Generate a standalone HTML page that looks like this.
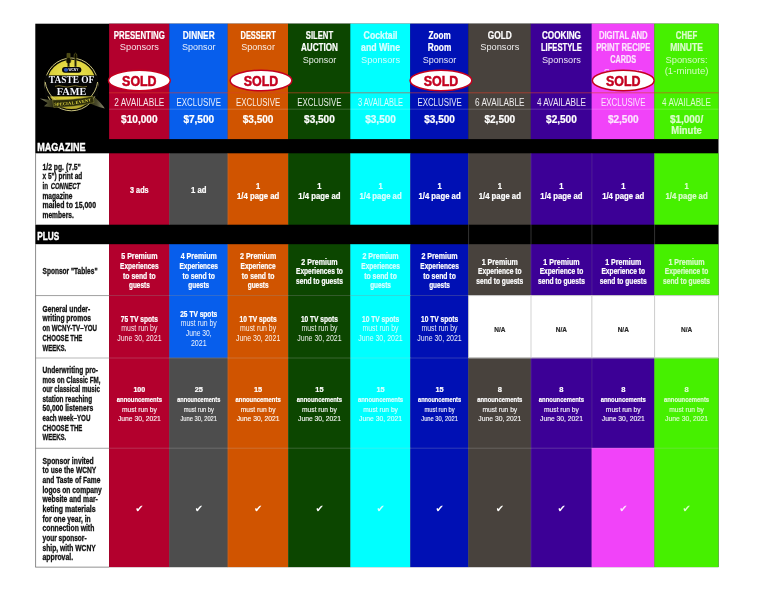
<!DOCTYPE html>
<html lang="en"><head><meta charset="utf-8"><title>Taste of Fame Sponsorship Levels</title>
<style>
html,body{margin:0;padding:0;background:#fff;}
body{width:768px;height:593px;overflow:hidden;}
svg{display:block;font-family:"Liberation Sans","DejaVu Sans",sans-serif;}
</style></head><body>
<svg width="768" height="593" viewBox="0 0 768 593">
<rect x="35.30" y="23.70" width="683.20" height="543.40" fill="#000"/>
<rect x="35.30" y="153.30" width="73.80" height="71.40" fill="#fff"/>
<rect x="35.30" y="244.20" width="73.80" height="51.40" fill="#fff"/>
<rect x="35.30" y="295.60" width="73.80" height="62.40" fill="#fff"/>
<rect x="35.30" y="358.00" width="73.80" height="90.20" fill="#fff"/>
<rect x="35.30" y="448.20" width="73.80" height="118.90" fill="#fff"/>
<rect x="109.10" y="23.70" width="60.50" height="115.40" fill="#b3002d"/>
<rect x="169.30" y="23.70" width="58.60" height="115.40" fill="#075eec"/>
<rect x="227.60" y="23.70" width="60.70" height="115.40" fill="#d05400"/>
<rect x="288.00" y="23.70" width="62.60" height="115.40" fill="#0c4600"/>
<rect x="350.30" y="23.70" width="60.20" height="115.40" fill="#00ffff"/>
<rect x="410.20" y="23.70" width="58.40" height="115.40" fill="#0010b4"/>
<rect x="468.30" y="23.70" width="62.70" height="115.40" fill="#48423d"/>
<rect x="530.70" y="23.70" width="61.20" height="115.40" fill="#3c0096"/>
<rect x="591.60" y="23.70" width="63.00" height="115.40" fill="#f143f9"/>
<rect x="654.30" y="23.70" width="64.20" height="115.40" fill="#46f000"/>
<rect x="109.10" y="153.30" width="60.50" height="71.40" fill="#b3002d"/>
<rect x="169.30" y="153.30" width="58.60" height="71.40" fill="#4d4d4d"/>
<rect x="227.60" y="153.30" width="60.70" height="71.40" fill="#d05400"/>
<rect x="288.00" y="153.30" width="62.60" height="71.40" fill="#0c4600"/>
<rect x="350.30" y="153.30" width="60.20" height="71.40" fill="#00ffff"/>
<rect x="410.20" y="153.30" width="58.40" height="71.40" fill="#0010b4"/>
<rect x="468.30" y="153.30" width="62.70" height="71.40" fill="#48423d"/>
<rect x="530.70" y="153.30" width="61.20" height="71.40" fill="#3c0096"/>
<rect x="591.60" y="153.30" width="63.00" height="71.40" fill="#3c0096"/>
<rect x="654.30" y="153.30" width="64.20" height="71.40" fill="#46f000"/>
<rect x="109.10" y="244.20" width="60.50" height="51.40" fill="#b3002d"/>
<rect x="169.30" y="244.20" width="58.60" height="51.40" fill="#075eec"/>
<rect x="227.60" y="244.20" width="60.70" height="51.40" fill="#d05400"/>
<rect x="288.00" y="244.20" width="62.60" height="51.40" fill="#0c4600"/>
<rect x="350.30" y="244.20" width="60.20" height="51.40" fill="#00ffff"/>
<rect x="410.20" y="244.20" width="58.40" height="51.40" fill="#0010b4"/>
<rect x="468.30" y="244.20" width="62.70" height="51.40" fill="#48423d"/>
<rect x="530.70" y="244.20" width="61.20" height="51.40" fill="#3c0096"/>
<rect x="591.60" y="244.20" width="63.00" height="51.40" fill="#3c0096"/>
<rect x="654.30" y="244.20" width="64.20" height="51.40" fill="#46f000"/>
<rect x="109.10" y="295.30" width="60.50" height="62.70" fill="#b3002d"/>
<rect x="169.30" y="295.30" width="58.60" height="62.70" fill="#075eec"/>
<rect x="227.60" y="295.30" width="60.70" height="62.70" fill="#d05400"/>
<rect x="288.00" y="295.30" width="62.60" height="62.70" fill="#0c4600"/>
<rect x="350.30" y="295.30" width="60.20" height="62.70" fill="#00ffff"/>
<rect x="410.20" y="295.30" width="58.40" height="62.70" fill="#0010b4"/>
<rect x="468.30" y="295.30" width="62.70" height="62.70" fill="#ffffff"/>
<rect x="530.70" y="295.30" width="61.20" height="62.70" fill="#ffffff"/>
<rect x="591.60" y="295.30" width="63.00" height="62.70" fill="#ffffff"/>
<rect x="654.30" y="295.30" width="64.20" height="62.70" fill="#ffffff"/>
<rect x="109.10" y="357.70" width="60.50" height="90.50" fill="#b3002d"/>
<rect x="169.30" y="357.70" width="58.60" height="90.50" fill="#4d4d4d"/>
<rect x="227.60" y="357.70" width="60.70" height="90.50" fill="#d05400"/>
<rect x="288.00" y="357.70" width="62.60" height="90.50" fill="#0c4600"/>
<rect x="350.30" y="357.70" width="60.20" height="90.50" fill="#00ffff"/>
<rect x="410.20" y="357.70" width="58.40" height="90.50" fill="#0010b4"/>
<rect x="468.30" y="357.70" width="62.70" height="90.50" fill="#48423d"/>
<rect x="530.70" y="357.70" width="61.20" height="90.50" fill="#3c0096"/>
<rect x="591.60" y="357.70" width="63.00" height="90.50" fill="#3c0096"/>
<rect x="654.30" y="357.70" width="64.20" height="90.50" fill="#46f000"/>
<rect x="109.10" y="447.90" width="60.50" height="119.20" fill="#b3002d"/>
<rect x="169.30" y="447.90" width="58.60" height="119.20" fill="#4d4d4d"/>
<rect x="227.60" y="447.90" width="60.70" height="119.20" fill="#d05400"/>
<rect x="288.00" y="447.90" width="62.60" height="119.20" fill="#0c4600"/>
<rect x="350.30" y="447.90" width="60.20" height="119.20" fill="#00ffff"/>
<rect x="410.20" y="447.90" width="58.40" height="119.20" fill="#0010b4"/>
<rect x="468.30" y="447.90" width="62.70" height="119.20" fill="#48423d"/>
<rect x="530.70" y="447.90" width="61.20" height="119.20" fill="#3c0096"/>
<rect x="591.60" y="447.90" width="63.00" height="119.20" fill="#f143f9"/>
<rect x="654.30" y="447.90" width="64.20" height="119.20" fill="#46f000"/>
<line x1="35.30" y1="295.60" x2="109.10" y2="295.60" stroke="#9a9a9a" stroke-width="0.7"/>
<line x1="35.30" y1="358.00" x2="109.10" y2="358.00" stroke="#9a9a9a" stroke-width="0.7"/>
<line x1="35.30" y1="448.20" x2="109.10" y2="448.20" stroke="#9a9a9a" stroke-width="0.7"/>
<line x1="35.60" y1="153.30" x2="35.60" y2="224.70" stroke="#777" stroke-width="0.7"/>
<line x1="35.60" y1="244.20" x2="35.60" y2="567.10" stroke="#777" stroke-width="0.7"/>
<line x1="35.30" y1="567.10" x2="109.10" y2="567.10" stroke="#777" stroke-width="0.7"/>
<line x1="468.60" y1="295.60" x2="468.60" y2="358.00" stroke="#c8c8c8" stroke-width="0.7"/>
<line x1="531.00" y1="295.60" x2="531.00" y2="358.00" stroke="#c8c8c8" stroke-width="0.7"/>
<line x1="591.90" y1="295.60" x2="591.90" y2="358.00" stroke="#c8c8c8" stroke-width="0.7"/>
<line x1="654.60" y1="295.60" x2="654.60" y2="358.00" stroke="#c8c8c8" stroke-width="0.7"/>
<line x1="718.50" y1="295.60" x2="718.50" y2="358.00" stroke="#c8c8c8" stroke-width="0.7"/>
<line x1="468.60" y1="295.60" x2="718.50" y2="295.60" stroke="#c8c8c8" stroke-width="0.7"/>
<line x1="468.60" y1="358.00" x2="718.50" y2="358.00" stroke="#c8c8c8" stroke-width="0.7"/>
<line x1="468.60" y1="224.70" x2="468.60" y2="244.20" stroke="#555" stroke-width="0.6"/>
<line x1="531.00" y1="224.70" x2="531.00" y2="244.20" stroke="#555" stroke-width="0.6"/>
<line x1="591.90" y1="224.70" x2="591.90" y2="244.20" stroke="#555" stroke-width="0.6"/>
<line x1="654.60" y1="224.70" x2="654.60" y2="244.20" stroke="#555" stroke-width="0.6"/>
<line x1="718.50" y1="224.70" x2="718.50" y2="244.20" stroke="#555" stroke-width="0.6"/>
<line x1="109.10" y1="295.60" x2="468.60" y2="295.60" stroke="#c8c8c8" stroke-width="0.7" opacity="0.35"/>
<line x1="109.10" y1="358.00" x2="718.50" y2="358.00" stroke="#c8c8c8" stroke-width="0.7" opacity="0.35"/>
<line x1="109.10" y1="448.20" x2="718.50" y2="448.20" stroke="#c8c8c8" stroke-width="0.7" opacity="0.35"/>
<line x1="169.60" y1="153.30" x2="169.60" y2="224.70" stroke="#c8c8c8" stroke-width="0.6" opacity="0.25"/>
<line x1="169.60" y1="244.20" x2="169.60" y2="567.10" stroke="#c8c8c8" stroke-width="0.6" opacity="0.25"/>
<line x1="227.90" y1="153.30" x2="227.90" y2="224.70" stroke="#c8c8c8" stroke-width="0.6" opacity="0.25"/>
<line x1="227.90" y1="244.20" x2="227.90" y2="567.10" stroke="#c8c8c8" stroke-width="0.6" opacity="0.25"/>
<line x1="288.30" y1="153.30" x2="288.30" y2="224.70" stroke="#c8c8c8" stroke-width="0.6" opacity="0.25"/>
<line x1="288.30" y1="244.20" x2="288.30" y2="567.10" stroke="#c8c8c8" stroke-width="0.6" opacity="0.25"/>
<line x1="350.60" y1="153.30" x2="350.60" y2="224.70" stroke="#c8c8c8" stroke-width="0.6" opacity="0.25"/>
<line x1="350.60" y1="244.20" x2="350.60" y2="567.10" stroke="#c8c8c8" stroke-width="0.6" opacity="0.25"/>
<line x1="410.50" y1="153.30" x2="410.50" y2="224.70" stroke="#c8c8c8" stroke-width="0.6" opacity="0.25"/>
<line x1="410.50" y1="244.20" x2="410.50" y2="567.10" stroke="#c8c8c8" stroke-width="0.6" opacity="0.25"/>
<line x1="468.60" y1="153.30" x2="468.60" y2="224.70" stroke="#c8c8c8" stroke-width="0.6" opacity="0.25"/>
<line x1="468.60" y1="244.20" x2="468.60" y2="567.10" stroke="#c8c8c8" stroke-width="0.6" opacity="0.25"/>
<line x1="531.00" y1="153.30" x2="531.00" y2="224.70" stroke="#c8c8c8" stroke-width="0.6" opacity="0.25"/>
<line x1="531.00" y1="244.20" x2="531.00" y2="567.10" stroke="#c8c8c8" stroke-width="0.6" opacity="0.25"/>
<line x1="591.90" y1="153.30" x2="591.90" y2="224.70" stroke="#c8c8c8" stroke-width="0.6" opacity="0.25"/>
<line x1="591.90" y1="244.20" x2="591.90" y2="567.10" stroke="#c8c8c8" stroke-width="0.6" opacity="0.25"/>
<line x1="654.60" y1="153.30" x2="654.60" y2="224.70" stroke="#c8c8c8" stroke-width="0.6" opacity="0.25"/>
<line x1="654.60" y1="244.20" x2="654.60" y2="567.10" stroke="#c8c8c8" stroke-width="0.6" opacity="0.25"/>
<line x1="109.10" y1="92.80" x2="718.50" y2="92.80" stroke="#d8402a" stroke-width="0.8" opacity="0.75"/>
<line x1="109.10" y1="109.20" x2="718.50" y2="109.20" stroke="#ffffff" stroke-width="0.6" opacity="0.3"/>
<defs>
<radialGradient id="lg" cx="0.5" cy="0.35" r="0.75"><stop offset="0" stop-color="#f2ea55"/><stop offset="0.65" stop-color="#d8cc38"/><stop offset="1" stop-color="#9a8d20"/></radialGradient>
<linearGradient id="tl" x1="0" y1="0" x2="1" y2="0"><stop offset="0" stop-color="#8a8a70"/><stop offset="0.5" stop-color="#4a4a2c"/><stop offset="1" stop-color="#2a2a10"/></linearGradient>
<linearGradient id="tr" x1="1" y1="0" x2="0" y2="0"><stop offset="0" stop-color="#8a8a70"/><stop offset="0.5" stop-color="#4a4a2c"/><stop offset="1" stop-color="#2a2a10"/></linearGradient>
<path id="arc" d="M50,105.9 Q73,105.6 96,100.2"/>
</defs>
<g>
<circle cx="71.4" cy="84.4" r="26.4" fill="#0a0a00" stroke="#dcd58a" stroke-width="0.9"/>
<circle cx="71.4" cy="84.4" r="24.6" fill="url(#lg)"/>
<rect x="45" y="75.4" width="53" height="21" fill="#050505"/>
<path d="M45.2,82 A26.4,26.4 0 0 0 97.6,82" fill="none" stroke="#dcd58a" stroke-width="0.9"/>
<g stroke="#6f6c22" stroke-width="0.6" fill="#0d0c00">
<path d="M67,53.4 v4.6 q-0.9,1.2 -0.9,2.8 q0,2 1.6,2.6 v3.4 h1.7 v-3.4 q1.6,-0.6 1.6,-2.6 q0,-1.6 -0.9,-2.8 v-4.6 h-0.7 v4.2 h-0.5 v-4.2 h-0.7 v4.2 h-0.5 v-4.2 z"/>
<path d="M75.4,53.2 q-1.3,0 -1.3,3 q0,1.6 0.6,2.4 v8.2 h1.6 v-8.2 q0.6,-0.8 0.6,-2.4 q0,-3 -1.5,-3 z"/>
</g>
<rect x="62" y="66.9" width="19.4" height="5.8" rx="2.9" fill="#060606"/>
<ellipse cx="66" cy="69.8" rx="2.2" ry="1.9" fill="#2d55b8"/>
<text x="73.4" y="71.3" font-size="4.2" font-weight="bold" fill="#e8ecff" text-anchor="middle" textLength="10" lengthAdjust="spacingAndGlyphs">WCNY</text>
<text x="71.6" y="83" font-size="9.4" font-weight="bold" fill="#f4f6ff" text-anchor="middle" textLength="45.5" lengthAdjust="spacingAndGlyphs" style="font-family:'Liberation Serif','DejaVu Serif',serif">TASTE OF</text>
<path d="M55,86.4 q4,-1.4 8,0 q4,1.4 8,0 q4,-1.4 8,0 q4,1.4 8,0" fill="none" stroke="#7d712a" stroke-width="0.9"/>
<text x="71.6" y="94.7" font-size="9.4" font-weight="bold" fill="#f4f6ff" text-anchor="middle" textLength="29.5" lengthAdjust="spacingAndGlyphs" style="font-family:'Liberation Serif','DejaVu Serif',serif">FAME</text>
<path d="M40,98.6 q7,1.4 13.6,1.6 l0.8,7.2 q-5,-0.2 -10.4,-1.2 l3.6,-3.2 z" fill="url(#tl)"/>
<path d="M104.8,108.6 q-3,-5 -9.8,-11 l-6.4,5.2 q6,3.2 16.2,5.8 z" fill="url(#tr)"/>
<path d="M52.6,100 Q73,100.4 93,96.2 L94,102.6 Q74,107.6 53.8,107.4 z" fill="#2c2c0a" stroke="#8f8a3a" stroke-width="0.5"/>
<text font-size="4.3" font-weight="bold" fill="#e6dc44" style="font-family:'Liberation Serif','DejaVu Serif',serif" letter-spacing="0.25"><textPath href="#arc" startOffset="50%" text-anchor="middle">SPECIAL EVENT</textPath></text>
</g>
<text x="139.35" y="38.80" textLength="51.0" lengthAdjust="spacingAndGlyphs" font-size="10" font-weight="bold" fill="#fff" text-anchor="middle" stroke="#fff" stroke-width="0.22">PRESENTING</text>
<text x="139.35" y="50.30" textLength="39.0" lengthAdjust="spacingAndGlyphs" font-size="9.3" font-weight="normal" fill="#fff" text-anchor="middle" opacity="0.9">Sponsors</text>
<ellipse cx="139.35" cy="80.5" rx="30.9" ry="10.3" fill="#fff" stroke="#c4001f" stroke-width="1.5"/>
<text x="139.35" y="85.70" textLength="34.5" lengthAdjust="spacingAndGlyphs" font-size="14.5" font-weight="bold" fill="#c4001f" text-anchor="middle" stroke="#c4001f" stroke-width="0.5">SOLD</text>
<text x="139.35" y="106.00" textLength="50.0" lengthAdjust="spacingAndGlyphs" font-size="10" font-weight="normal" fill="#fff" text-anchor="middle" opacity="0.9">2 AVAILABLE</text>
<text x="139.35" y="122.90" textLength="36.5" lengthAdjust="spacingAndGlyphs" font-size="10" font-weight="bold" fill="#fff" text-anchor="middle" stroke="#fff" stroke-width="0.22">$10,000</text>
<text x="198.75" y="38.80" textLength="31.8" lengthAdjust="spacingAndGlyphs" font-size="10" font-weight="bold" fill="#fff" text-anchor="middle" stroke="#fff" stroke-width="0.22">DINNER</text>
<text x="198.75" y="50.30" textLength="33.6" lengthAdjust="spacingAndGlyphs" font-size="9.3" font-weight="normal" fill="#fff" text-anchor="middle" opacity="0.9">Sponsor</text>
<text x="198.75" y="106.00" textLength="44.3" lengthAdjust="spacingAndGlyphs" font-size="10" font-weight="normal" fill="#fff" text-anchor="middle" opacity="0.9">EXCLUSIVE</text>
<text x="198.75" y="122.90" textLength="30.7" lengthAdjust="spacingAndGlyphs" font-size="10" font-weight="bold" fill="#fff" text-anchor="middle" stroke="#fff" stroke-width="0.22">$7,500</text>
<text x="258.10" y="38.80" textLength="35.2" lengthAdjust="spacingAndGlyphs" font-size="10" font-weight="bold" fill="#fff" text-anchor="middle" stroke="#fff" stroke-width="0.22">DESSERT</text>
<text x="258.10" y="50.30" textLength="33.6" lengthAdjust="spacingAndGlyphs" font-size="9.3" font-weight="normal" fill="#fff" text-anchor="middle" opacity="0.9">Sponsor</text>
<ellipse cx="261.00" cy="80.5" rx="30.9" ry="10.3" fill="#fff" stroke="#c4001f" stroke-width="1.5"/>
<text x="261.00" y="85.70" textLength="34.5" lengthAdjust="spacingAndGlyphs" font-size="14.5" font-weight="bold" fill="#c4001f" text-anchor="middle" stroke="#c4001f" stroke-width="0.5">SOLD</text>
<text x="258.10" y="106.00" textLength="44.3" lengthAdjust="spacingAndGlyphs" font-size="10" font-weight="normal" fill="#fff" text-anchor="middle" opacity="0.9">EXCLUSIVE</text>
<text x="258.10" y="122.90" textLength="30.7" lengthAdjust="spacingAndGlyphs" font-size="10" font-weight="bold" fill="#fff" text-anchor="middle" stroke="#fff" stroke-width="0.22">$3,500</text>
<text x="319.45" y="38.80" textLength="27.3" lengthAdjust="spacingAndGlyphs" font-size="10" font-weight="bold" fill="#fff" text-anchor="middle" stroke="#fff" stroke-width="0.22">SILENT</text>
<text x="319.45" y="51.10" textLength="37.0" lengthAdjust="spacingAndGlyphs" font-size="10" font-weight="bold" fill="#fff" text-anchor="middle" stroke="#fff" stroke-width="0.22">AUCTION</text>
<text x="319.45" y="62.60" textLength="33.6" lengthAdjust="spacingAndGlyphs" font-size="9.3" font-weight="normal" fill="#fff" text-anchor="middle" opacity="0.9">Sponsor</text>
<text x="319.45" y="106.00" textLength="44.3" lengthAdjust="spacingAndGlyphs" font-size="10" font-weight="normal" fill="#fff" text-anchor="middle" opacity="0.9">EXCLUSIVE</text>
<text x="319.45" y="122.90" textLength="30.7" lengthAdjust="spacingAndGlyphs" font-size="10" font-weight="bold" fill="#fff" text-anchor="middle" stroke="#fff" stroke-width="0.22">$3,500</text>
<text x="380.55" y="38.80" textLength="33.9" lengthAdjust="spacingAndGlyphs" font-size="10" font-weight="bold" fill="#fff" text-anchor="middle" opacity="0.85" stroke="#fff" stroke-width="0.22">Cocktail</text>
<text x="380.55" y="51.10" textLength="39.0" lengthAdjust="spacingAndGlyphs" font-size="10" font-weight="bold" fill="#fff" text-anchor="middle" opacity="0.85" stroke="#fff" stroke-width="0.22">and Wine</text>
<text x="380.55" y="62.60" textLength="39.0" lengthAdjust="spacingAndGlyphs" font-size="9.3" font-weight="normal" fill="#fff" text-anchor="middle" opacity="0.8075">Sponsors</text>
<text x="380.55" y="106.00" textLength="45.0" lengthAdjust="spacingAndGlyphs" font-size="10" font-weight="normal" fill="#fff" text-anchor="middle" opacity="0.85">3 AVAILABLE</text>
<text x="380.55" y="122.90" textLength="30.7" lengthAdjust="spacingAndGlyphs" font-size="10" font-weight="bold" fill="#fff" text-anchor="middle" opacity="0.85" stroke="#fff" stroke-width="0.22">$3,500</text>
<text x="439.55" y="38.80" textLength="22.1" lengthAdjust="spacingAndGlyphs" font-size="10" font-weight="bold" fill="#fff" text-anchor="middle" stroke="#fff" stroke-width="0.22">Zoom</text>
<text x="439.55" y="51.10" textLength="23.4" lengthAdjust="spacingAndGlyphs" font-size="10" font-weight="bold" fill="#fff" text-anchor="middle" stroke="#fff" stroke-width="0.22">Room</text>
<text x="439.55" y="62.60" textLength="33.6" lengthAdjust="spacingAndGlyphs" font-size="9.3" font-weight="normal" fill="#fff" text-anchor="middle" opacity="0.9">Sponsor</text>
<ellipse cx="440.95" cy="80.5" rx="30.9" ry="10.3" fill="#fff" stroke="#c4001f" stroke-width="1.5"/>
<text x="440.95" y="85.70" textLength="34.5" lengthAdjust="spacingAndGlyphs" font-size="14.5" font-weight="bold" fill="#c4001f" text-anchor="middle" stroke="#c4001f" stroke-width="0.5">SOLD</text>
<text x="439.55" y="106.00" textLength="44.3" lengthAdjust="spacingAndGlyphs" font-size="10" font-weight="normal" fill="#fff" text-anchor="middle" opacity="0.9">EXCLUSIVE</text>
<text x="439.55" y="122.90" textLength="30.7" lengthAdjust="spacingAndGlyphs" font-size="10" font-weight="bold" fill="#fff" text-anchor="middle" stroke="#fff" stroke-width="0.22">$3,500</text>
<text x="499.80" y="38.80" textLength="24.0" lengthAdjust="spacingAndGlyphs" font-size="10" font-weight="bold" fill="#fff" text-anchor="middle" stroke="#fff" stroke-width="0.22">GOLD</text>
<text x="499.80" y="50.30" textLength="39.0" lengthAdjust="spacingAndGlyphs" font-size="9.3" font-weight="normal" fill="#fff" text-anchor="middle" opacity="0.9">Sponsors</text>
<text x="499.80" y="106.00" textLength="49.5" lengthAdjust="spacingAndGlyphs" font-size="10" font-weight="normal" fill="#fff" text-anchor="middle" opacity="0.9">6 AVAILABLE</text>
<text x="499.80" y="122.90" textLength="30.7" lengthAdjust="spacingAndGlyphs" font-size="10" font-weight="bold" fill="#fff" text-anchor="middle" stroke="#fff" stroke-width="0.22">$2,500</text>
<text x="561.45" y="38.80" textLength="39.0" lengthAdjust="spacingAndGlyphs" font-size="10" font-weight="bold" fill="#fff" text-anchor="middle" stroke="#fff" stroke-width="0.22">COOKING</text>
<text x="561.45" y="51.10" textLength="41.0" lengthAdjust="spacingAndGlyphs" font-size="10" font-weight="bold" fill="#fff" text-anchor="middle" stroke="#fff" stroke-width="0.22">LIFESTYLE</text>
<text x="561.45" y="62.60" textLength="39.0" lengthAdjust="spacingAndGlyphs" font-size="9.3" font-weight="normal" fill="#fff" text-anchor="middle" opacity="0.9">Sponsors</text>
<text x="561.45" y="106.00" textLength="49.0" lengthAdjust="spacingAndGlyphs" font-size="10" font-weight="normal" fill="#fff" text-anchor="middle" opacity="0.9">4 AVAILABLE</text>
<text x="561.45" y="122.90" textLength="30.7" lengthAdjust="spacingAndGlyphs" font-size="10" font-weight="bold" fill="#fff" text-anchor="middle" stroke="#fff" stroke-width="0.22">$2,500</text>
<text x="623.25" y="38.80" textLength="48.7" lengthAdjust="spacingAndGlyphs" font-size="10" font-weight="bold" fill="#fff" text-anchor="middle" opacity="0.85" stroke="#fff" stroke-width="0.22">DIGITAL AND</text>
<text x="623.25" y="51.10" textLength="54.2" lengthAdjust="spacingAndGlyphs" font-size="10" font-weight="bold" fill="#fff" text-anchor="middle" opacity="0.85" stroke="#fff" stroke-width="0.22">PRINT RECIPE</text>
<text x="623.25" y="63.40" textLength="26.0" lengthAdjust="spacingAndGlyphs" font-size="10" font-weight="bold" fill="#fff" text-anchor="middle" opacity="0.85" stroke="#fff" stroke-width="0.22">CARDS</text>
<text x="623.25" y="74.90" textLength="39.0" lengthAdjust="spacingAndGlyphs" font-size="9.3" font-weight="normal" fill="#fff" text-anchor="middle" opacity="0.8075">Sponsors</text>
<ellipse cx="623.25" cy="80.5" rx="30.9" ry="10.3" fill="#fff" stroke="#c4001f" stroke-width="1.5"/>
<text x="623.25" y="85.70" textLength="34.5" lengthAdjust="spacingAndGlyphs" font-size="14.5" font-weight="bold" fill="#c4001f" text-anchor="middle" stroke="#c4001f" stroke-width="0.5">SOLD</text>
<text x="623.25" y="106.00" textLength="44.3" lengthAdjust="spacingAndGlyphs" font-size="10" font-weight="normal" fill="#fff" text-anchor="middle" opacity="0.85">EXCLUSIVE</text>
<text x="623.25" y="122.90" textLength="30.7" lengthAdjust="spacingAndGlyphs" font-size="10" font-weight="bold" fill="#fff" text-anchor="middle" opacity="0.85" stroke="#fff" stroke-width="0.22">$2,500</text>
<text x="686.55" y="38.80" textLength="21.4" lengthAdjust="spacingAndGlyphs" font-size="10" font-weight="bold" fill="#fff" text-anchor="middle" opacity="0.8" stroke="#fff" stroke-width="0.22">CHEF</text>
<text x="686.55" y="51.10" textLength="32.6" lengthAdjust="spacingAndGlyphs" font-size="10" font-weight="bold" fill="#fff" text-anchor="middle" opacity="0.8" stroke="#fff" stroke-width="0.22">MINUTE</text>
<text x="686.55" y="62.60" textLength="42.2" lengthAdjust="spacingAndGlyphs" font-size="9.3" font-weight="normal" fill="#fff" text-anchor="middle" opacity="0.76">Sponsors:</text>
<text x="686.55" y="74.10" textLength="43.8" lengthAdjust="spacingAndGlyphs" font-size="9.3" font-weight="normal" fill="#fff" text-anchor="middle" opacity="0.76">(1-minute)</text>
<text x="686.55" y="106.00" textLength="49.0" lengthAdjust="spacingAndGlyphs" font-size="10" font-weight="normal" fill="#fff" text-anchor="middle" opacity="0.8">4 AVAILABLE</text>
<text x="686.55" y="122.90" textLength="33.3" lengthAdjust="spacingAndGlyphs" font-size="10" font-weight="bold" fill="#fff" text-anchor="middle" opacity="0.8" stroke="#fff" stroke-width="0.22">$1,000/</text>
<text x="686.55" y="134.40" textLength="30.5" lengthAdjust="spacingAndGlyphs" font-size="10" font-weight="bold" fill="#fff" text-anchor="middle" opacity="0.8" stroke="#fff" stroke-width="0.22">Minute</text>
<text x="37.20" y="151.00" textLength="48.4" lengthAdjust="spacingAndGlyphs" font-size="10.8" font-weight="bold" fill="#fff" text-anchor="start" stroke="#fff" stroke-width="0.4">MAGAZINE</text>
<text x="37.20" y="240.20" textLength="22.0" lengthAdjust="spacingAndGlyphs" font-size="10.8" font-weight="bold" fill="#fff" text-anchor="start" stroke="#fff" stroke-width="0.4">PLUS</text>
<text x="42.50" y="169.80" textLength="38.3" lengthAdjust="spacingAndGlyphs" font-size="8.3" font-weight="bold" fill="#111" text-anchor="start" stroke="#111" stroke-width="0.3">1/2 pg. (7.5&quot;</text>
<text x="42.50" y="179.38" textLength="39.7" lengthAdjust="spacingAndGlyphs" font-size="8.3" font-weight="bold" fill="#111" text-anchor="start" stroke="#111" stroke-width="0.3">x 5&quot;) print ad</text>
<text x="42.50" y="188.96" textLength="5.6" lengthAdjust="spacingAndGlyphs" font-size="8.3" font-weight="bold" fill="#111" text-anchor="start" stroke="#111" stroke-width="0.3">in</text>
<text x="50.70" y="188.96" textLength="29.4" lengthAdjust="spacingAndGlyphs" font-size="8.3" font-weight="bold" fill="#111" text-anchor="start" font-style="italic" stroke="#111" stroke-width="0.3">CONNECT</text>
<text x="42.50" y="198.54" textLength="30.0" lengthAdjust="spacingAndGlyphs" font-size="8.3" font-weight="bold" fill="#111" text-anchor="start" stroke="#111" stroke-width="0.3">magazine</text>
<text x="42.50" y="208.12" textLength="53.5" lengthAdjust="spacingAndGlyphs" font-size="8.3" font-weight="bold" fill="#111" text-anchor="start" stroke="#111" stroke-width="0.3">mailed to 15,000</text>
<text x="42.50" y="217.70" textLength="31.3" lengthAdjust="spacingAndGlyphs" font-size="8.3" font-weight="bold" fill="#111" text-anchor="start" stroke="#111" stroke-width="0.3">members.</text>
<text x="42.50" y="273.50" textLength="55.0" lengthAdjust="spacingAndGlyphs" font-size="8.3" font-weight="bold" fill="#111" text-anchor="start" stroke="#111" stroke-width="0.3">Sponsor &quot;Tables&quot;</text>
<text x="42.50" y="311.70" textLength="47.7" lengthAdjust="spacingAndGlyphs" font-size="8.3" font-weight="bold" fill="#111" text-anchor="start" stroke="#111" stroke-width="0.3">General under-</text>
<text x="42.50" y="321.45" textLength="48.5" lengthAdjust="spacingAndGlyphs" font-size="8.3" font-weight="bold" fill="#111" text-anchor="start" stroke="#111" stroke-width="0.3">writing promos</text>
<text x="42.50" y="331.20" textLength="54.5" lengthAdjust="spacingAndGlyphs" font-size="8.3" font-weight="bold" fill="#111" text-anchor="start" stroke="#111" stroke-width="0.3">on WCNY-TV–YOU</text>
<text x="42.50" y="340.95" textLength="39.9" lengthAdjust="spacingAndGlyphs" font-size="8.3" font-weight="bold" fill="#111" text-anchor="start" stroke="#111" stroke-width="0.3">CHOOSE THE</text>
<text x="42.50" y="350.70" textLength="23.8" lengthAdjust="spacingAndGlyphs" font-size="8.3" font-weight="bold" fill="#111" text-anchor="start" stroke="#111" stroke-width="0.3">WEEKS.</text>
<text x="42.50" y="372.90" textLength="55.5" lengthAdjust="spacingAndGlyphs" font-size="8.3" font-weight="bold" fill="#111" text-anchor="start" stroke="#111" stroke-width="0.3">Underwriting pro-</text>
<text x="42.50" y="382.53" textLength="58.0" lengthAdjust="spacingAndGlyphs" font-size="8.3" font-weight="bold" fill="#111" text-anchor="start" stroke="#111" stroke-width="0.3">mos on Classic FM,</text>
<text x="42.50" y="392.16" textLength="57.4" lengthAdjust="spacingAndGlyphs" font-size="8.3" font-weight="bold" fill="#111" text-anchor="start" stroke="#111" stroke-width="0.3">our classical music</text>
<text x="42.50" y="401.79" textLength="49.6" lengthAdjust="spacingAndGlyphs" font-size="8.3" font-weight="bold" fill="#111" text-anchor="start" stroke="#111" stroke-width="0.3">station reaching</text>
<text x="42.50" y="411.42" textLength="50.7" lengthAdjust="spacingAndGlyphs" font-size="8.3" font-weight="bold" fill="#111" text-anchor="start" stroke="#111" stroke-width="0.3">50,000 listeners</text>
<text x="42.50" y="421.05" textLength="47.9" lengthAdjust="spacingAndGlyphs" font-size="8.3" font-weight="bold" fill="#111" text-anchor="start" stroke="#111" stroke-width="0.3">each week–YOU</text>
<text x="42.50" y="430.68" textLength="39.9" lengthAdjust="spacingAndGlyphs" font-size="8.3" font-weight="bold" fill="#111" text-anchor="start" stroke="#111" stroke-width="0.3">CHOOSE THE</text>
<text x="42.50" y="440.31" textLength="23.8" lengthAdjust="spacingAndGlyphs" font-size="8.3" font-weight="bold" fill="#111" text-anchor="start" stroke="#111" stroke-width="0.3">WEEKS.</text>
<text x="42.50" y="463.60" textLength="51.2" lengthAdjust="spacingAndGlyphs" font-size="8.3" font-weight="bold" fill="#111" text-anchor="start" stroke="#111" stroke-width="0.3">Sponsor invited</text>
<text x="42.50" y="473.27" textLength="53.8" lengthAdjust="spacingAndGlyphs" font-size="8.3" font-weight="bold" fill="#111" text-anchor="start" stroke="#111" stroke-width="0.3">to use the WCNY</text>
<text x="42.50" y="482.94" textLength="57.9" lengthAdjust="spacingAndGlyphs" font-size="8.3" font-weight="bold" fill="#111" text-anchor="start" stroke="#111" stroke-width="0.3">and Taste of Fame</text>
<text x="42.50" y="492.61" textLength="59.3" lengthAdjust="spacingAndGlyphs" font-size="8.3" font-weight="bold" fill="#111" text-anchor="start" stroke="#111" stroke-width="0.3">logos on company</text>
<text x="42.50" y="502.28" textLength="55.3" lengthAdjust="spacingAndGlyphs" font-size="8.3" font-weight="bold" fill="#111" text-anchor="start" stroke="#111" stroke-width="0.3">website and mar-</text>
<text x="42.50" y="511.95" textLength="53.2" lengthAdjust="spacingAndGlyphs" font-size="8.3" font-weight="bold" fill="#111" text-anchor="start" stroke="#111" stroke-width="0.3">keting materials</text>
<text x="42.50" y="521.62" textLength="48.2" lengthAdjust="spacingAndGlyphs" font-size="8.3" font-weight="bold" fill="#111" text-anchor="start" stroke="#111" stroke-width="0.3">for one year, in</text>
<text x="42.50" y="531.29" textLength="51.8" lengthAdjust="spacingAndGlyphs" font-size="8.3" font-weight="bold" fill="#111" text-anchor="start" stroke="#111" stroke-width="0.3">connection with</text>
<text x="42.50" y="540.96" textLength="44.1" lengthAdjust="spacingAndGlyphs" font-size="8.3" font-weight="bold" fill="#111" text-anchor="start" stroke="#111" stroke-width="0.3">your sponsor-</text>
<text x="42.50" y="550.63" textLength="53.2" lengthAdjust="spacingAndGlyphs" font-size="8.3" font-weight="bold" fill="#111" text-anchor="start" stroke="#111" stroke-width="0.3">ship, with WCNY</text>
<text x="42.50" y="560.30" textLength="30.6" lengthAdjust="spacingAndGlyphs" font-size="8.3" font-weight="bold" fill="#111" text-anchor="start" stroke="#111" stroke-width="0.3">approval.</text>
<text x="139.35" y="193.40" textLength="18.5" lengthAdjust="spacingAndGlyphs" font-size="8.5" font-weight="bold" fill="#fff" text-anchor="middle" stroke="#fff" stroke-width="0.22">3 ads</text>
<text x="198.75" y="193.40" textLength="15.5" lengthAdjust="spacingAndGlyphs" font-size="8.5" font-weight="bold" fill="#fff" text-anchor="middle" stroke="#fff" stroke-width="0.22">1 ad</text>
<text x="258.10" y="188.50" textLength="4.2" lengthAdjust="spacingAndGlyphs" font-size="8.5" font-weight="bold" fill="#fff" text-anchor="middle" stroke="#fff" stroke-width="0.22">1</text>
<text x="258.10" y="198.70" textLength="42.2" lengthAdjust="spacingAndGlyphs" font-size="8.5" font-weight="bold" fill="#fff" text-anchor="middle" stroke="#fff" stroke-width="0.22">1/4 page ad</text>
<text x="319.45" y="188.50" textLength="4.2" lengthAdjust="spacingAndGlyphs" font-size="8.5" font-weight="bold" fill="#fff" text-anchor="middle" stroke="#fff" stroke-width="0.22">1</text>
<text x="319.45" y="198.70" textLength="42.2" lengthAdjust="spacingAndGlyphs" font-size="8.5" font-weight="bold" fill="#fff" text-anchor="middle" stroke="#fff" stroke-width="0.22">1/4 page ad</text>
<text x="380.55" y="188.50" textLength="4.2" lengthAdjust="spacingAndGlyphs" font-size="8.5" font-weight="bold" fill="#fff" text-anchor="middle" opacity="0.85" stroke="#fff" stroke-width="0.22">1</text>
<text x="380.55" y="198.70" textLength="42.2" lengthAdjust="spacingAndGlyphs" font-size="8.5" font-weight="bold" fill="#fff" text-anchor="middle" opacity="0.85" stroke="#fff" stroke-width="0.22">1/4 page ad</text>
<text x="439.55" y="188.50" textLength="4.2" lengthAdjust="spacingAndGlyphs" font-size="8.5" font-weight="bold" fill="#fff" text-anchor="middle" stroke="#fff" stroke-width="0.22">1</text>
<text x="439.55" y="198.70" textLength="42.2" lengthAdjust="spacingAndGlyphs" font-size="8.5" font-weight="bold" fill="#fff" text-anchor="middle" stroke="#fff" stroke-width="0.22">1/4 page ad</text>
<text x="499.80" y="188.50" textLength="4.2" lengthAdjust="spacingAndGlyphs" font-size="8.5" font-weight="bold" fill="#fff" text-anchor="middle" stroke="#fff" stroke-width="0.22">1</text>
<text x="499.80" y="198.70" textLength="42.2" lengthAdjust="spacingAndGlyphs" font-size="8.5" font-weight="bold" fill="#fff" text-anchor="middle" stroke="#fff" stroke-width="0.22">1/4 page ad</text>
<text x="561.45" y="188.50" textLength="4.2" lengthAdjust="spacingAndGlyphs" font-size="8.5" font-weight="bold" fill="#fff" text-anchor="middle" stroke="#fff" stroke-width="0.22">1</text>
<text x="561.45" y="198.70" textLength="42.2" lengthAdjust="spacingAndGlyphs" font-size="8.5" font-weight="bold" fill="#fff" text-anchor="middle" stroke="#fff" stroke-width="0.22">1/4 page ad</text>
<text x="623.25" y="188.50" textLength="4.2" lengthAdjust="spacingAndGlyphs" font-size="8.5" font-weight="bold" fill="#fff" text-anchor="middle" stroke="#fff" stroke-width="0.22">1</text>
<text x="623.25" y="198.70" textLength="42.2" lengthAdjust="spacingAndGlyphs" font-size="8.5" font-weight="bold" fill="#fff" text-anchor="middle" stroke="#fff" stroke-width="0.22">1/4 page ad</text>
<text x="686.55" y="188.50" textLength="4.2" lengthAdjust="spacingAndGlyphs" font-size="8.5" font-weight="bold" fill="#fff" text-anchor="middle" opacity="0.8" stroke="#fff" stroke-width="0.22">1</text>
<text x="686.55" y="198.70" textLength="42.2" lengthAdjust="spacingAndGlyphs" font-size="8.5" font-weight="bold" fill="#fff" text-anchor="middle" opacity="0.8" stroke="#fff" stroke-width="0.22">1/4 page ad</text>
<text x="139.35" y="259.40" textLength="36.2" lengthAdjust="spacingAndGlyphs" font-size="8.2" font-weight="bold" fill="#fff" text-anchor="middle" stroke="#fff" stroke-width="0.22">5 Premium</text>
<text x="139.35" y="269.00" textLength="38.5" lengthAdjust="spacingAndGlyphs" font-size="8.2" font-weight="bold" fill="#fff" text-anchor="middle" stroke="#fff" stroke-width="0.22">Experiences</text>
<text x="139.35" y="278.60" textLength="32.5" lengthAdjust="spacingAndGlyphs" font-size="8.2" font-weight="bold" fill="#fff" text-anchor="middle" stroke="#fff" stroke-width="0.22">to send to</text>
<text x="139.35" y="288.20" textLength="20.8" lengthAdjust="spacingAndGlyphs" font-size="8.2" font-weight="bold" fill="#fff" text-anchor="middle" stroke="#fff" stroke-width="0.22">guests</text>
<text x="198.75" y="259.40" textLength="36.2" lengthAdjust="spacingAndGlyphs" font-size="8.2" font-weight="bold" fill="#fff" text-anchor="middle" stroke="#fff" stroke-width="0.22">4 Premium</text>
<text x="198.75" y="269.00" textLength="38.5" lengthAdjust="spacingAndGlyphs" font-size="8.2" font-weight="bold" fill="#fff" text-anchor="middle" stroke="#fff" stroke-width="0.22">Experiences</text>
<text x="198.75" y="278.60" textLength="32.5" lengthAdjust="spacingAndGlyphs" font-size="8.2" font-weight="bold" fill="#fff" text-anchor="middle" stroke="#fff" stroke-width="0.22">to send to</text>
<text x="198.75" y="288.20" textLength="20.8" lengthAdjust="spacingAndGlyphs" font-size="8.2" font-weight="bold" fill="#fff" text-anchor="middle" stroke="#fff" stroke-width="0.22">guests</text>
<text x="258.10" y="259.40" textLength="36.2" lengthAdjust="spacingAndGlyphs" font-size="8.2" font-weight="bold" fill="#fff" text-anchor="middle" stroke="#fff" stroke-width="0.22">2 Premium</text>
<text x="258.10" y="269.00" textLength="35.2" lengthAdjust="spacingAndGlyphs" font-size="8.2" font-weight="bold" fill="#fff" text-anchor="middle" stroke="#fff" stroke-width="0.22">Experience</text>
<text x="258.10" y="278.60" textLength="32.5" lengthAdjust="spacingAndGlyphs" font-size="8.2" font-weight="bold" fill="#fff" text-anchor="middle" stroke="#fff" stroke-width="0.22">to send to</text>
<text x="258.10" y="288.20" textLength="20.8" lengthAdjust="spacingAndGlyphs" font-size="8.2" font-weight="bold" fill="#fff" text-anchor="middle" stroke="#fff" stroke-width="0.22">guests</text>
<text x="319.45" y="264.60" textLength="36.2" lengthAdjust="spacingAndGlyphs" font-size="8.2" font-weight="bold" fill="#fff" text-anchor="middle" stroke="#fff" stroke-width="0.22">2 Premium</text>
<text x="319.45" y="274.10" textLength="46.9" lengthAdjust="spacingAndGlyphs" font-size="8.2" font-weight="bold" fill="#fff" text-anchor="middle" stroke="#fff" stroke-width="0.22">Experiences to</text>
<text x="319.45" y="283.60" textLength="46.9" lengthAdjust="spacingAndGlyphs" font-size="8.2" font-weight="bold" fill="#fff" text-anchor="middle" stroke="#fff" stroke-width="0.22">send to guests</text>
<text x="380.55" y="259.40" textLength="36.2" lengthAdjust="spacingAndGlyphs" font-size="8.2" font-weight="bold" fill="#fff" text-anchor="middle" opacity="0.85" stroke="#fff" stroke-width="0.22">2 Premium</text>
<text x="380.55" y="269.00" textLength="38.5" lengthAdjust="spacingAndGlyphs" font-size="8.2" font-weight="bold" fill="#fff" text-anchor="middle" opacity="0.85" stroke="#fff" stroke-width="0.22">Experiences</text>
<text x="380.55" y="278.60" textLength="32.5" lengthAdjust="spacingAndGlyphs" font-size="8.2" font-weight="bold" fill="#fff" text-anchor="middle" opacity="0.85" stroke="#fff" stroke-width="0.22">to send to</text>
<text x="380.55" y="288.20" textLength="20.8" lengthAdjust="spacingAndGlyphs" font-size="8.2" font-weight="bold" fill="#fff" text-anchor="middle" opacity="0.85" stroke="#fff" stroke-width="0.22">guests</text>
<text x="439.55" y="259.40" textLength="36.2" lengthAdjust="spacingAndGlyphs" font-size="8.2" font-weight="bold" fill="#fff" text-anchor="middle" stroke="#fff" stroke-width="0.22">2 Premium</text>
<text x="439.55" y="269.00" textLength="38.5" lengthAdjust="spacingAndGlyphs" font-size="8.2" font-weight="bold" fill="#fff" text-anchor="middle" stroke="#fff" stroke-width="0.22">Experiences</text>
<text x="439.55" y="278.60" textLength="32.5" lengthAdjust="spacingAndGlyphs" font-size="8.2" font-weight="bold" fill="#fff" text-anchor="middle" stroke="#fff" stroke-width="0.22">to send to</text>
<text x="439.55" y="288.20" textLength="20.8" lengthAdjust="spacingAndGlyphs" font-size="8.2" font-weight="bold" fill="#fff" text-anchor="middle" stroke="#fff" stroke-width="0.22">guests</text>
<text x="499.80" y="264.60" textLength="36.2" lengthAdjust="spacingAndGlyphs" font-size="8.2" font-weight="bold" fill="#fff" text-anchor="middle" stroke="#fff" stroke-width="0.22">1 Premium</text>
<text x="499.80" y="274.10" textLength="43.6" lengthAdjust="spacingAndGlyphs" font-size="8.2" font-weight="bold" fill="#fff" text-anchor="middle" stroke="#fff" stroke-width="0.22">Experience to</text>
<text x="499.80" y="283.60" textLength="46.9" lengthAdjust="spacingAndGlyphs" font-size="8.2" font-weight="bold" fill="#fff" text-anchor="middle" stroke="#fff" stroke-width="0.22">send to guests</text>
<text x="561.45" y="264.60" textLength="36.2" lengthAdjust="spacingAndGlyphs" font-size="8.2" font-weight="bold" fill="#fff" text-anchor="middle" stroke="#fff" stroke-width="0.22">1 Premium</text>
<text x="561.45" y="274.10" textLength="43.6" lengthAdjust="spacingAndGlyphs" font-size="8.2" font-weight="bold" fill="#fff" text-anchor="middle" stroke="#fff" stroke-width="0.22">Experience to</text>
<text x="561.45" y="283.60" textLength="46.9" lengthAdjust="spacingAndGlyphs" font-size="8.2" font-weight="bold" fill="#fff" text-anchor="middle" stroke="#fff" stroke-width="0.22">send to guests</text>
<text x="623.25" y="264.60" textLength="36.2" lengthAdjust="spacingAndGlyphs" font-size="8.2" font-weight="bold" fill="#fff" text-anchor="middle" stroke="#fff" stroke-width="0.22">1 Premium</text>
<text x="623.25" y="274.10" textLength="43.6" lengthAdjust="spacingAndGlyphs" font-size="8.2" font-weight="bold" fill="#fff" text-anchor="middle" stroke="#fff" stroke-width="0.22">Experience to</text>
<text x="623.25" y="283.60" textLength="46.9" lengthAdjust="spacingAndGlyphs" font-size="8.2" font-weight="bold" fill="#fff" text-anchor="middle" stroke="#fff" stroke-width="0.22">send to guests</text>
<text x="686.55" y="264.60" textLength="36.2" lengthAdjust="spacingAndGlyphs" font-size="8.2" font-weight="bold" fill="#fff" text-anchor="middle" opacity="0.8" stroke="#fff" stroke-width="0.22">1 Premium</text>
<text x="686.55" y="274.10" textLength="43.6" lengthAdjust="spacingAndGlyphs" font-size="8.2" font-weight="bold" fill="#fff" text-anchor="middle" opacity="0.8" stroke="#fff" stroke-width="0.22">Experience to</text>
<text x="686.55" y="283.60" textLength="46.9" lengthAdjust="spacingAndGlyphs" font-size="8.2" font-weight="bold" fill="#fff" text-anchor="middle" opacity="0.8" stroke="#fff" stroke-width="0.22">send to guests</text>
<text x="139.35" y="321.70" textLength="37.1" lengthAdjust="spacingAndGlyphs" font-size="8.2" font-weight="bold" fill="#fff" text-anchor="middle" stroke="#fff" stroke-width="0.22">75 TV spots</text>
<text x="139.35" y="331.30" textLength="36.0" lengthAdjust="spacingAndGlyphs" font-size="8.2" font-weight="normal" fill="#fff" text-anchor="middle" opacity="0.92">must run by</text>
<text x="139.35" y="340.90" textLength="44.4" lengthAdjust="spacingAndGlyphs" font-size="8.2" font-weight="normal" fill="#fff" text-anchor="middle" opacity="0.92">June 30, 2021</text>
<text x="198.75" y="316.70" textLength="37.1" lengthAdjust="spacingAndGlyphs" font-size="8.2" font-weight="bold" fill="#fff" text-anchor="middle" stroke="#fff" stroke-width="0.22">25 TV spots</text>
<text x="198.75" y="326.30" textLength="36.0" lengthAdjust="spacingAndGlyphs" font-size="8.2" font-weight="normal" fill="#fff" text-anchor="middle" opacity="0.92">must run by</text>
<text x="198.75" y="335.90" textLength="26.0" lengthAdjust="spacingAndGlyphs" font-size="8.2" font-weight="normal" fill="#fff" text-anchor="middle" opacity="0.92">June 30,</text>
<text x="198.75" y="345.50" textLength="15.7" lengthAdjust="spacingAndGlyphs" font-size="8.2" font-weight="normal" fill="#fff" text-anchor="middle" opacity="0.92">2021</text>
<text x="258.10" y="321.70" textLength="37.1" lengthAdjust="spacingAndGlyphs" font-size="8.2" font-weight="bold" fill="#fff" text-anchor="middle" stroke="#fff" stroke-width="0.22">10 TV spots</text>
<text x="258.10" y="331.30" textLength="36.0" lengthAdjust="spacingAndGlyphs" font-size="8.2" font-weight="normal" fill="#fff" text-anchor="middle" opacity="0.92">must run by</text>
<text x="258.10" y="340.90" textLength="44.4" lengthAdjust="spacingAndGlyphs" font-size="8.2" font-weight="normal" fill="#fff" text-anchor="middle" opacity="0.92">June 30, 2021</text>
<text x="319.45" y="321.70" textLength="37.1" lengthAdjust="spacingAndGlyphs" font-size="8.2" font-weight="bold" fill="#fff" text-anchor="middle" stroke="#fff" stroke-width="0.22">10 TV spots</text>
<text x="319.45" y="331.30" textLength="36.0" lengthAdjust="spacingAndGlyphs" font-size="8.2" font-weight="normal" fill="#fff" text-anchor="middle" opacity="0.92">must run by</text>
<text x="319.45" y="340.90" textLength="44.4" lengthAdjust="spacingAndGlyphs" font-size="8.2" font-weight="normal" fill="#fff" text-anchor="middle" opacity="0.92">June 30, 2021</text>
<text x="380.55" y="321.70" textLength="37.1" lengthAdjust="spacingAndGlyphs" font-size="8.2" font-weight="bold" fill="#fff" text-anchor="middle" opacity="0.85" stroke="#fff" stroke-width="0.22">10 TV spots</text>
<text x="380.55" y="331.30" textLength="36.0" lengthAdjust="spacingAndGlyphs" font-size="8.2" font-weight="normal" fill="#fff" text-anchor="middle" opacity="0.85">must run by</text>
<text x="380.55" y="340.90" textLength="44.4" lengthAdjust="spacingAndGlyphs" font-size="8.2" font-weight="normal" fill="#fff" text-anchor="middle" opacity="0.85">June 30, 2021</text>
<text x="439.55" y="321.70" textLength="37.1" lengthAdjust="spacingAndGlyphs" font-size="8.2" font-weight="bold" fill="#fff" text-anchor="middle" stroke="#fff" stroke-width="0.22">10 TV spots</text>
<text x="439.55" y="331.30" textLength="36.0" lengthAdjust="spacingAndGlyphs" font-size="8.2" font-weight="normal" fill="#fff" text-anchor="middle" opacity="0.92">must run by</text>
<text x="439.55" y="340.90" textLength="44.4" lengthAdjust="spacingAndGlyphs" font-size="8.2" font-weight="normal" fill="#fff" text-anchor="middle" opacity="0.92">June 30, 2021</text>
<text x="499.80" y="331.60" textLength="11.2" lengthAdjust="spacingAndGlyphs" font-size="7.8" font-weight="bold" fill="#2a2a2a" text-anchor="middle" stroke="#2a2a2a" stroke-width="0.22">N/A</text>
<text x="561.45" y="331.60" textLength="11.2" lengthAdjust="spacingAndGlyphs" font-size="7.8" font-weight="bold" fill="#2a2a2a" text-anchor="middle" stroke="#2a2a2a" stroke-width="0.22">N/A</text>
<text x="623.25" y="331.60" textLength="11.2" lengthAdjust="spacingAndGlyphs" font-size="7.8" font-weight="bold" fill="#2a2a2a" text-anchor="middle" stroke="#2a2a2a" stroke-width="0.22">N/A</text>
<text x="686.55" y="331.60" textLength="11.2" lengthAdjust="spacingAndGlyphs" font-size="7.8" font-weight="bold" fill="#2a2a2a" text-anchor="middle" stroke="#2a2a2a" stroke-width="0.22">N/A</text>
<text x="139.35" y="392.30" textLength="11.8" lengthAdjust="spacingAndGlyphs" font-size="8" font-weight="bold" fill="#fff" text-anchor="middle" stroke="#fff" stroke-width="0.22">100</text>
<text x="139.35" y="401.95" textLength="45.2" lengthAdjust="spacingAndGlyphs" font-size="8" font-weight="bold" fill="#fff" text-anchor="middle" stroke="#fff" stroke-width="0.22">announcements</text>
<text x="139.35" y="411.60" textLength="34.8" lengthAdjust="spacingAndGlyphs" font-size="8" font-weight="normal" fill="#fff" text-anchor="middle" opacity="0.95" stroke="#fff" stroke-width="0.15">must run by</text>
<text x="139.35" y="421.25" textLength="42.9" lengthAdjust="spacingAndGlyphs" font-size="8" font-weight="normal" fill="#fff" text-anchor="middle" opacity="0.95" stroke="#fff" stroke-width="0.15">June 30, 2021</text>
<text x="198.75" y="392.30" textLength="8.2" lengthAdjust="spacingAndGlyphs" font-size="8" font-weight="bold" fill="#fff" text-anchor="middle" stroke="#fff" stroke-width="0.22">25</text>
<text x="198.75" y="401.95" textLength="43.1" lengthAdjust="spacingAndGlyphs" font-size="8" font-weight="bold" fill="#fff" text-anchor="middle" stroke="#fff" stroke-width="0.22">announcements</text>
<text x="198.75" y="411.60" textLength="30.0" lengthAdjust="spacingAndGlyphs" font-size="8" font-weight="normal" fill="#fff" text-anchor="middle" opacity="0.95" stroke="#fff" stroke-width="0.15">must run by</text>
<text x="198.75" y="421.25" textLength="36.6" lengthAdjust="spacingAndGlyphs" font-size="8" font-weight="normal" fill="#fff" text-anchor="middle" opacity="0.95" stroke="#fff" stroke-width="0.15">June 30, 2021</text>
<text x="258.10" y="392.30" textLength="8.2" lengthAdjust="spacingAndGlyphs" font-size="8" font-weight="bold" fill="#fff" text-anchor="middle" stroke="#fff" stroke-width="0.22">15</text>
<text x="258.10" y="401.95" textLength="45.2" lengthAdjust="spacingAndGlyphs" font-size="8" font-weight="bold" fill="#fff" text-anchor="middle" stroke="#fff" stroke-width="0.22">announcements</text>
<text x="258.10" y="411.60" textLength="34.8" lengthAdjust="spacingAndGlyphs" font-size="8" font-weight="normal" fill="#fff" text-anchor="middle" opacity="0.95" stroke="#fff" stroke-width="0.15">must run by</text>
<text x="258.10" y="421.25" textLength="42.9" lengthAdjust="spacingAndGlyphs" font-size="8" font-weight="normal" fill="#fff" text-anchor="middle" opacity="0.95" stroke="#fff" stroke-width="0.15">June 30, 2021</text>
<text x="319.45" y="392.30" textLength="8.2" lengthAdjust="spacingAndGlyphs" font-size="8" font-weight="bold" fill="#fff" text-anchor="middle" stroke="#fff" stroke-width="0.22">15</text>
<text x="319.45" y="401.95" textLength="45.2" lengthAdjust="spacingAndGlyphs" font-size="8" font-weight="bold" fill="#fff" text-anchor="middle" stroke="#fff" stroke-width="0.22">announcements</text>
<text x="319.45" y="411.60" textLength="34.8" lengthAdjust="spacingAndGlyphs" font-size="8" font-weight="normal" fill="#fff" text-anchor="middle" opacity="0.95" stroke="#fff" stroke-width="0.15">must run by</text>
<text x="319.45" y="421.25" textLength="42.9" lengthAdjust="spacingAndGlyphs" font-size="8" font-weight="normal" fill="#fff" text-anchor="middle" opacity="0.95" stroke="#fff" stroke-width="0.15">June 30, 2021</text>
<text x="380.55" y="392.30" textLength="8.2" lengthAdjust="spacingAndGlyphs" font-size="8" font-weight="bold" fill="#fff" text-anchor="middle" opacity="0.85" stroke="#fff" stroke-width="0.22">15</text>
<text x="380.55" y="401.95" textLength="45.2" lengthAdjust="spacingAndGlyphs" font-size="8" font-weight="bold" fill="#fff" text-anchor="middle" opacity="0.85" stroke="#fff" stroke-width="0.22">announcements</text>
<text x="380.55" y="411.60" textLength="34.8" lengthAdjust="spacingAndGlyphs" font-size="8" font-weight="normal" fill="#fff" text-anchor="middle" opacity="0.85" stroke="#fff" stroke-width="0.15">must run by</text>
<text x="380.55" y="421.25" textLength="42.9" lengthAdjust="spacingAndGlyphs" font-size="8" font-weight="normal" fill="#fff" text-anchor="middle" opacity="0.85" stroke="#fff" stroke-width="0.15">June 30, 2021</text>
<text x="439.55" y="392.30" textLength="8.2" lengthAdjust="spacingAndGlyphs" font-size="8" font-weight="bold" fill="#fff" text-anchor="middle" stroke="#fff" stroke-width="0.22">15</text>
<text x="439.55" y="401.95" textLength="43.1" lengthAdjust="spacingAndGlyphs" font-size="8" font-weight="bold" fill="#fff" text-anchor="middle" stroke="#fff" stroke-width="0.22">announcements</text>
<text x="439.55" y="411.60" textLength="30.0" lengthAdjust="spacingAndGlyphs" font-size="8" font-weight="normal" fill="#fff" text-anchor="middle" opacity="0.95" stroke="#fff" stroke-width="0.15">must run by</text>
<text x="439.55" y="421.25" textLength="36.6" lengthAdjust="spacingAndGlyphs" font-size="8" font-weight="normal" fill="#fff" text-anchor="middle" opacity="0.95" stroke="#fff" stroke-width="0.15">June 30, 2021</text>
<text x="499.80" y="392.30" textLength="4.2" lengthAdjust="spacingAndGlyphs" font-size="8" font-weight="bold" fill="#fff" text-anchor="middle" stroke="#fff" stroke-width="0.22">8</text>
<text x="499.80" y="401.95" textLength="45.2" lengthAdjust="spacingAndGlyphs" font-size="8" font-weight="bold" fill="#fff" text-anchor="middle" stroke="#fff" stroke-width="0.22">announcements</text>
<text x="499.80" y="411.60" textLength="34.8" lengthAdjust="spacingAndGlyphs" font-size="8" font-weight="normal" fill="#fff" text-anchor="middle" opacity="0.95" stroke="#fff" stroke-width="0.15">must run by</text>
<text x="499.80" y="421.25" textLength="42.9" lengthAdjust="spacingAndGlyphs" font-size="8" font-weight="normal" fill="#fff" text-anchor="middle" opacity="0.95" stroke="#fff" stroke-width="0.15">June 30, 2021</text>
<text x="561.45" y="392.30" textLength="4.2" lengthAdjust="spacingAndGlyphs" font-size="8" font-weight="bold" fill="#fff" text-anchor="middle" stroke="#fff" stroke-width="0.22">8</text>
<text x="561.45" y="401.95" textLength="45.2" lengthAdjust="spacingAndGlyphs" font-size="8" font-weight="bold" fill="#fff" text-anchor="middle" stroke="#fff" stroke-width="0.22">announcements</text>
<text x="561.45" y="411.60" textLength="34.8" lengthAdjust="spacingAndGlyphs" font-size="8" font-weight="normal" fill="#fff" text-anchor="middle" opacity="0.95" stroke="#fff" stroke-width="0.15">must run by</text>
<text x="561.45" y="421.25" textLength="42.9" lengthAdjust="spacingAndGlyphs" font-size="8" font-weight="normal" fill="#fff" text-anchor="middle" opacity="0.95" stroke="#fff" stroke-width="0.15">June 30, 2021</text>
<text x="623.25" y="392.30" textLength="4.2" lengthAdjust="spacingAndGlyphs" font-size="8" font-weight="bold" fill="#fff" text-anchor="middle" stroke="#fff" stroke-width="0.22">8</text>
<text x="623.25" y="401.95" textLength="45.2" lengthAdjust="spacingAndGlyphs" font-size="8" font-weight="bold" fill="#fff" text-anchor="middle" stroke="#fff" stroke-width="0.22">announcements</text>
<text x="623.25" y="411.60" textLength="34.8" lengthAdjust="spacingAndGlyphs" font-size="8" font-weight="normal" fill="#fff" text-anchor="middle" opacity="0.95" stroke="#fff" stroke-width="0.15">must run by</text>
<text x="623.25" y="421.25" textLength="42.9" lengthAdjust="spacingAndGlyphs" font-size="8" font-weight="normal" fill="#fff" text-anchor="middle" opacity="0.95" stroke="#fff" stroke-width="0.15">June 30, 2021</text>
<text x="686.55" y="392.30" textLength="4.2" lengthAdjust="spacingAndGlyphs" font-size="8" font-weight="bold" fill="#fff" text-anchor="middle" opacity="0.8" stroke="#fff" stroke-width="0.22">8</text>
<text x="686.55" y="401.95" textLength="45.2" lengthAdjust="spacingAndGlyphs" font-size="8" font-weight="bold" fill="#fff" text-anchor="middle" opacity="0.8" stroke="#fff" stroke-width="0.22">announcements</text>
<text x="686.55" y="411.60" textLength="34.8" lengthAdjust="spacingAndGlyphs" font-size="8" font-weight="normal" fill="#fff" text-anchor="middle" opacity="0.8" stroke="#fff" stroke-width="0.15">must run by</text>
<text x="686.55" y="421.25" textLength="42.9" lengthAdjust="spacingAndGlyphs" font-size="8" font-weight="normal" fill="#fff" text-anchor="middle" opacity="0.8" stroke="#fff" stroke-width="0.15">June 30, 2021</text>
<text style="font-family:'DejaVu Sans',sans-serif" transform="translate(139.55,512.00) scale(1.0,1)" font-size="10" font-weight="normal" fill="#fff" text-anchor="middle">✔</text>
<text style="font-family:'DejaVu Sans',sans-serif" transform="translate(198.95,512.00) scale(1.0,1)" font-size="10" font-weight="normal" fill="#fff" text-anchor="middle">✔</text>
<text style="font-family:'DejaVu Sans',sans-serif" transform="translate(258.30,512.00) scale(1.0,1)" font-size="10" font-weight="normal" fill="#fff" text-anchor="middle">✔</text>
<text style="font-family:'DejaVu Sans',sans-serif" transform="translate(319.65,512.00) scale(1.0,1)" font-size="10" font-weight="normal" fill="#fff" text-anchor="middle">✔</text>
<text style="font-family:'DejaVu Sans',sans-serif" transform="translate(380.75,512.00) scale(1.0,1)" font-size="10" font-weight="normal" fill="#fff" text-anchor="middle" opacity="0.85">✔</text>
<text style="font-family:'DejaVu Sans',sans-serif" transform="translate(439.75,512.00) scale(1.0,1)" font-size="10" font-weight="normal" fill="#fff" text-anchor="middle">✔</text>
<text style="font-family:'DejaVu Sans',sans-serif" transform="translate(500.00,512.00) scale(1.0,1)" font-size="10" font-weight="normal" fill="#fff" text-anchor="middle">✔</text>
<text style="font-family:'DejaVu Sans',sans-serif" transform="translate(561.65,512.00) scale(1.0,1)" font-size="10" font-weight="normal" fill="#fff" text-anchor="middle">✔</text>
<text style="font-family:'DejaVu Sans',sans-serif" transform="translate(623.45,512.00) scale(1.0,1)" font-size="10" font-weight="normal" fill="#fff" text-anchor="middle" opacity="0.85">✔</text>
<text style="font-family:'DejaVu Sans',sans-serif" transform="translate(686.75,512.00) scale(1.0,1)" font-size="10" font-weight="normal" fill="#fff" text-anchor="middle" opacity="0.8">✔</text>
</svg>
</body></html>
